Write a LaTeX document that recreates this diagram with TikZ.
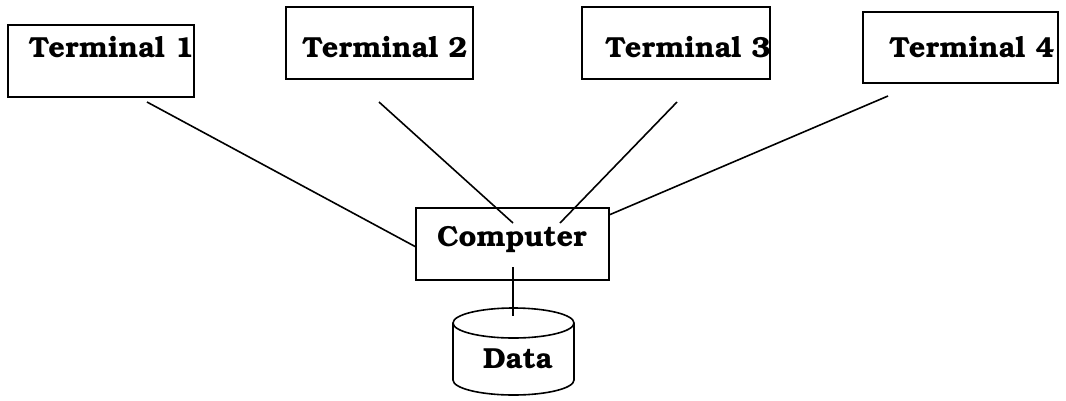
\documentclass[tikz,border=0pt]{standalone}
\usepackage[T1]{fontenc}
\usepackage{bookman}
\begin{document}
\begin{tikzpicture}[x=1pt,y=-1pt,
  box/.style={draw,line width=1.6pt,inner sep=0pt,anchor=center},
  lbl/.style={font=\fontsize{29}{33}\selectfont\bfseries,inner sep=0pt,anchor=base},
  wire/.style={line width=1.6pt}]
\useasboundingbox (0,0) rectangle (1066,400);
% terminal boxes
\node[box,minimum width=186pt,minimum height=72pt] (t1) at (101,61) {};
\node[box,minimum width=187pt,minimum height=72pt] (t2) at (379.5,43) {};
\node[box,minimum width=188pt,minimum height=72pt] (t3) at (676,43) {};
\node[box,minimum width=195pt,minimum height=71pt] (t4) at (960.5,47.5) {};
\node[lbl] (t1l) at (111.5,57) {Terminal 1};
\node[lbl] (t2l) at (385,57) {Terminal 2};
\node[lbl] (t3l) at (688,57) {Terminal 3};
\node[lbl] (t4l) at (972,57) {Terminal 4};
% computer
\node[box,minimum width=193pt,minimum height=72pt] (comp) at (512.5,244) {};
\node[lbl] (compl) at (512,246) {Computer};
% data cylinder
\draw[wire,fill=white] (453,323) -- (453,380) arc[start angle=180,end angle=360,x radius=60.5pt,y radius=15pt] -- (574,323);
\draw[wire] (513.5,323) ellipse[x radius=60.5pt,y radius=15pt];
\node[lbl] (data) at (518,368) {Data};
% connector end points
\coordinate (a1) at (147,102);
\coordinate (b1) at (416,247);
\coordinate (a2) at (379,102);
\coordinate (b2) at (513,223);
\coordinate (a3) at (677,102);
\coordinate (b3) at (560,223);
\coordinate (a4) at (888,96);
\coordinate (b4) at (609,215);
\coordinate (a5) at (513,267);
\coordinate (b5) at (513,316);
\draw[wire] (a1) -- (b1);
\draw[wire] (a2) -- (b2);
\draw[wire] (a3) -- (b3);
\draw[wire] (a4) -- (b4);
\draw[wire] (a5) -- (b5);
\end{tikzpicture}
\end{document}
